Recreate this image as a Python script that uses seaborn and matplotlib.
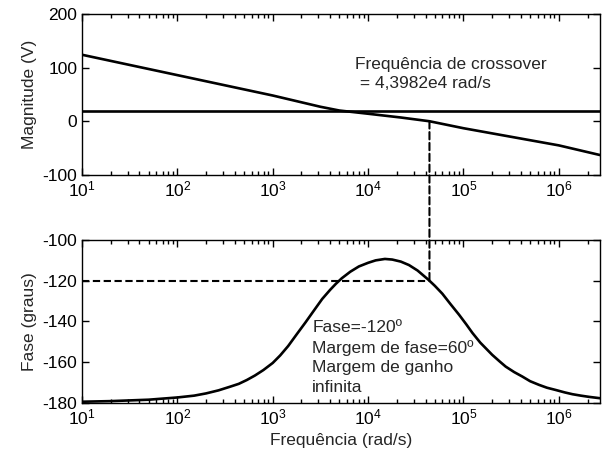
import numpy as np
import pandas as pd
import matplotlib
matplotlib.use("Agg")
import matplotlib.pyplot as plt
from matplotlib.patches import ConnectionPatch
from matplotlib.ticker import LogLocator, NullFormatter
import seaborn as sns

# Values
mag_freq = [10, 31.6, 100, 316, 1000, 3162, 5000, 1e4, 2.2e4, 4.4e4, 1e5, 3.16e5, 1e6, 2.7e6]
mag_db = [124, 105, 86, 67, 48, 27, 20, 14, 7, 0, -13, -29, -45, -63]
ref_level = 20

phase_freq = [10, 20, 50, 100, 150, 200, 270, 357, 440, 535, 650, 798, 1000, 1197,
              1450, 1790, 2200, 2674, 3300, 4000, 4600, 5300, 6500, 8000, 1e4, 1.2e4,
              1.5e4, 1.79e4, 2.2e4, 2.68e4, 3.3e4, 4.28e4, 5.0e4, 6.0e4, 7.3e4, 9.0e4,
              1.07e5, 1.24e5, 1.5e5, 2.0e5, 2.4e5, 2.77e5, 3.4e5, 4.14e5, 5.0e5, 6.2e5,
              7.5e5, 9.25e5, 1.15e6, 1.39e6, 1.7e6, 2.07e6, 2.73e6]
phase_deg = [-179.6, -179.3, -178.6, -177.5, -176.6, -175.5, -174.0, -172.2, -170.8,
             -168.9, -166.7, -164.0, -160.5, -156.8, -152.2, -146.3, -140.6, -135.0,
             -129.0, -124.5, -121.5, -118.8, -115.6, -113.0, -111.2, -110.0, -109.3,
             -109.6, -110.6, -112.3, -115.0, -119.5, -122.5, -126.4, -131.5, -136.8,
             -141.5, -145.7, -150.5, -156.5, -159.8, -162.3, -165.0, -167.2, -169.5,
             -171.3, -172.7, -173.8, -175.0, -175.9, -176.6, -177.2, -177.9]

cross_freq = 4.3982e4
cross_mag = 0
cross_phase = -120
x_min, x_max = 10, 2.7e6

mag_df = pd.DataFrame({"freq": mag_freq, "mag": mag_db})
phase_df = pd.DataFrame({"freq": phase_freq, "phase": phase_deg})

sns.set_style("ticks")
plt.rcParams['font.family'] = ['Liberation Sans', 'DejaVu Sans']
plt.rcParams['mathtext.fontset'] = 'custom'
plt.rcParams['mathtext.rm'] = 'Liberation Sans'
plt.rcParams['axes.unicode_minus'] = False

fig = plt.figure(figsize=(6.03, 4.59), dpi=100)
ax1 = fig.add_axes([0.136, 0.619, 0.859, 0.3505])
ax2 = fig.add_axes([0.136, 0.123, 0.859, 0.354])

# Magnitude
ax1.set_xscale("log")
sns.lineplot(data=mag_df, x="freq", y="mag", ax=ax1, color="black", linewidth=1.9)
ax1.axhline(ref_level, color="black", linewidth=1.9)
ax1.set_xlim(x_min, x_max)
ax1.set_ylim(-100, 200)
ax1.set_yticks([-100, 0, 100, 200])
ax1.set_xlabel("")
ax1.set_ylabel("Magnitude (V)", fontsize=12.5)
ax1.text(7300, 88, "Frequência de crossover\n = 4,3982e4 rad/s", fontsize=12.5,
         ha="left", va="center", linespacing=1.3)

# Phase
ax2.set_xscale("log")
sns.lineplot(data=phase_df, x="freq", y="phase", ax=ax2, color="black", linewidth=1.9)
ax2.hlines(cross_phase, x_min, cross_freq, colors="black", linewidth=1.5,
           linestyles=(0, (3.5, 1.7)))
ax2.set_xlim(x_min, x_max)
ax2.set_ylim(-180, -100)
ax2.set_yticks([-180, -160, -140, -120, -100])
ax2.set_xlabel("Frequência (rad/s)", fontsize=12.5)
ax2.set_ylabel("Fase (graus)", fontsize=12.5)
ax2.text(2590, -157.8, "Fase=-120º\nMargem de fase=60º\nMargem de ganho\ninfinita",
         fontsize=12.5, ha="left", va="center", linespacing=1.4)

# dashed link from crossover on magnitude to phase
con = ConnectionPatch(xyA=(cross_freq, cross_mag), coordsA=ax1.transData,
                      xyB=(cross_freq, cross_phase), coordsB=ax2.transData,
                      color="black", linewidth=1.5, linestyle=(0, (3.5, 1.7)))
fig.add_artist(con)

for ax in (ax1, ax2):
    for sp in ax.spines.values():
        sp.set_linewidth(1.0)
        sp.set_color("black")
    ax.xaxis.set_major_locator(LogLocator(base=10, numticks=20))
    ax.xaxis.set_minor_locator(LogLocator(base=10, subs=np.arange(2, 10), numticks=100))
    ax.xaxis.set_minor_formatter(NullFormatter())
    ax.tick_params(which="both", direction="in", left=True, bottom=True, top=True,
                   right=True, labelsize=12.5, colors="black")
    ax.tick_params(which="major", length=5, width=1.0)
    ax.tick_params(axis="x", which="minor", length=3, width=1.0)

fig.savefig("out.png", dpi=100)
